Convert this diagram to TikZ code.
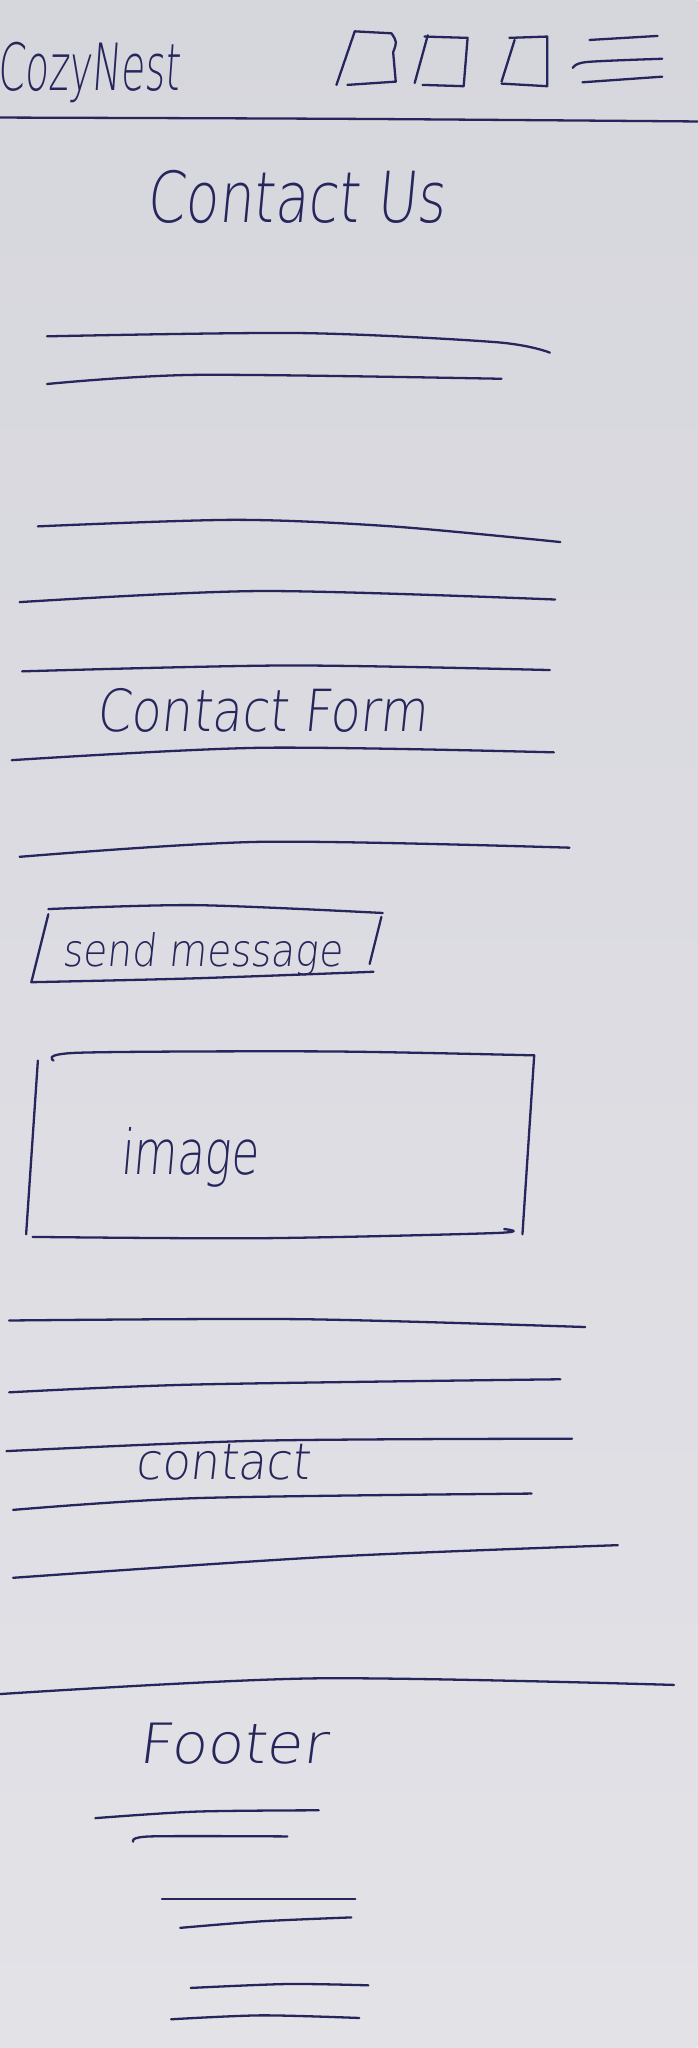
\documentclass[tikz,border=0pt]{standalone}
\usepackage{fontspec}
\setmainfont{Liberation Sans}
\newfontfamily\hand{DejaVu Sans ExtraLight}[FakeSlant=0.12]
\usepackage{graphicx}
\definecolor{ink}{RGB}{38,38,92}
\definecolor{paper}{RGB}{214,214,221}
\definecolor{paperlow}{RGB}{226,226,231}
\newcommand{\hw}[3]{\resizebox{#1}{#2}{\hand #3}}
\tikzset{
  pen/.style={draw=ink, line width=1pt, line cap=round, line join=round},
  lbl/.style={inner sep=0pt, outer sep=0pt, anchor=base west, text=ink}
}
\begin{document}
\begin{tikzpicture}[x=0.02cm, y=-0.02cm]
\fill[top color=paper, bottom color=paperlow] (0,0) rectangle (534,1568);
\useasboundingbox (0,0) rectangle (534,1568);

% ---------- header ----------
\node[lbl] (logo) at (-2,69) {\hw{2.8cm}{0.74cm}{CozyNest}};
% icon squares
\draw[pen] (271.6,24) -- (257.6,65);
\draw[pen] (271.6,24) -- (299.7,25.5) .. controls (304,32) .. (301,40) -- (303,62.5) -- (266,65);
\draw[pen] (327.5,27) -- (317.5,63.5);
\draw[pen] (325,28) -- (358,29) -- (355,66) -- (323.5,65);
\draw[pen] (394,30.6) -- (384,62.5);
\draw[pen] (390,29) -- (419,28) -- (419,66) -- (384,64);
% hamburger
\draw[pen] (451.4,30.6) -- (503.5,27.5);
\draw[pen] plot[smooth] coordinates {(438.6,52) (449,47.5) (507,45)};
\draw[pen] (446,63) -- (507,58.7);
% header rule
\draw[pen] plot[smooth] coordinates {(0,90) (267,91) (534,93)};

\node[lbl] (title) at (112,170) {\hw{4.58cm}{0.80cm}{Contact Us}};

% ---------- text lines ----------
\draw[pen] plot[smooth] coordinates {(36,257.5) (230,255) (380,262) (421,270)};
\draw[pen] plot[smooth] coordinates {(36,294) (150,287) (384,290)};
\draw[pen] plot[smooth] coordinates {(29,403) (180,398) (300,403) (429,415)};
\draw[pen] plot[smooth] coordinates {(15,461) (200,452.5) (425,459)};
\draw[pen] plot[smooth] coordinates {(17,514) (220,509.5) (421,513)};

\node[lbl] (formtitle) at (74,560) {\hw{5.06cm}{0.66cm}{Contact Form}};

\draw[pen] plot[smooth] coordinates {(9,582) (200,572.5) (424,576)};
\draw[pen] plot[smooth] coordinates {(15,656) (200,644.5) (436,649)};

% ---------- send message button ----------
\draw[pen] plot[smooth] coordinates {(37,696) (150,693) (293,699)};
\draw[pen] (37,700) -- (24,752);
\draw[pen] plot[smooth] coordinates {(24,752) (150,749) (286,744)};
\draw[pen] (292,702) -- (283,738);
\node[lbl] (sendbtn) at (48,740) {\hw{4.28cm}{0.52cm}{send message}};

% ---------- image box ----------
\draw[pen] plot[smooth] coordinates {(41,812) (60,806) (250,805) (409,808)};
\draw[pen] (409,808) -- (400,945);
\draw[pen] plot[smooth] coordinates {(25,947) (200,948) (380,944) (386,941)};
\draw[pen] (29,812) -- (20,945);
\node[lbl] (imglabel) at (92,899) {\hw{2.12cm}{0.72cm}{image}};

% ---------- contact section ----------
\draw[pen] plot[smooth] coordinates {(7,1011) (230,1010) (448,1016)};
\draw[pen] plot[smooth] coordinates {(7,1066) (150,1060) (429,1056)};
\draw[pen] plot[smooth] coordinates {(5,1111) (200,1103) (438,1101.5)};
\node[lbl] (contactlabel) at (104,1133) {\hw{2.66cm}{0.54cm}{contact}};
\draw[pen] plot[smooth] coordinates {(10,1156) (150,1147) (407,1143.5)};
\draw[pen] plot[smooth] coordinates {(10,1208) (250,1192) (473,1183)};
\draw[pen] plot[smooth] coordinates {(0,1297) (240,1285) (516,1290)};

% ---------- footer ----------
\node[lbl] (footerlabel) at (106,1350) {\hw{2.88cm}{0.62cm}{Footer}};
\draw[pen] plot[smooth] coordinates {(73,1392) (150,1387) (244,1386)};
\draw[pen] plot[smooth] coordinates {(102,1410) (115,1406) (220,1406)};
\draw[pen] (124,1454) -- (272,1454);
\draw[pen] plot[smooth] coordinates {(138,1476) (200,1471) (269,1468)};
\draw[pen] plot[smooth] coordinates {(146,1522) (220,1519) (282,1520)};
\draw[pen] plot[smooth] coordinates {(131,1546) (200,1543) (275,1545)};
\end{tikzpicture}
\end{document}
